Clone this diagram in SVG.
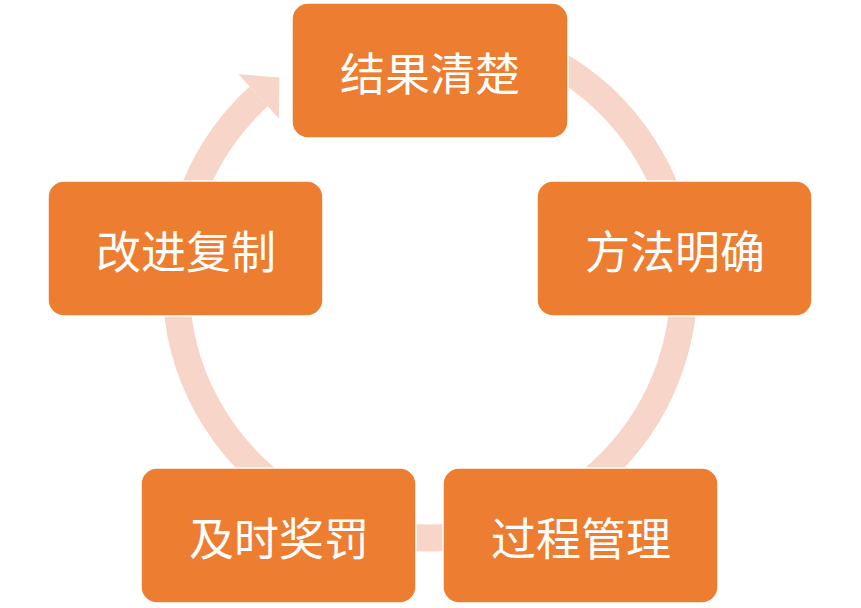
<svg xmlns="http://www.w3.org/2000/svg" width="861" height="608" viewBox="0 0 861 608">
<style>
.box{fill:#ED7D31;stroke:#ffffff;stroke-width:1.5}
.lbl{fill:#ffffff;font-family:"Noto Sans CJK SC","Noto Sans",sans-serif;font-size:45px;text-anchor:middle;dominant-baseline:central}
.ring{fill:none;stroke:#F7D5C9;stroke-width:27}
</style>
<rect width="861" height="608" fill="#ffffff"/>
<g id="connectors">
<path class="ring" d="M 452.1 31 A 254 254 0 1 1 258.7 96.4"/>
<polygon points="238.5,74.2 279.4,77.5 278.9,118.6" fill="#F7D5C9"/>
</g>
<g id="node-top">
<rect class="box" x="292" y="3" width="276" height="135" rx="16"/>
<text class="lbl" x="430" y="71">结果清楚</text>
</g>
<g id="node-right">
<rect class="box" x="537" y="181" width="275" height="135" rx="16"/>
<text class="lbl" x="675" y="249">方法明确</text>
</g>
<g id="node-bottom-right">
<rect class="box" x="443" y="468" width="275" height="135" rx="16"/>
<text class="lbl" x="581" y="536">过程管理</text>
</g>
<g id="node-bottom-left">
<rect class="box" x="141" y="468" width="275" height="135" rx="16"/>
<text class="lbl" x="279" y="536">及时奖罚</text>
</g>
<g id="node-left">
<rect class="box" x="48" y="181" width="275" height="135" rx="16"/>
<text class="lbl" x="186" y="249">改进复制</text>
</g>
</svg>
